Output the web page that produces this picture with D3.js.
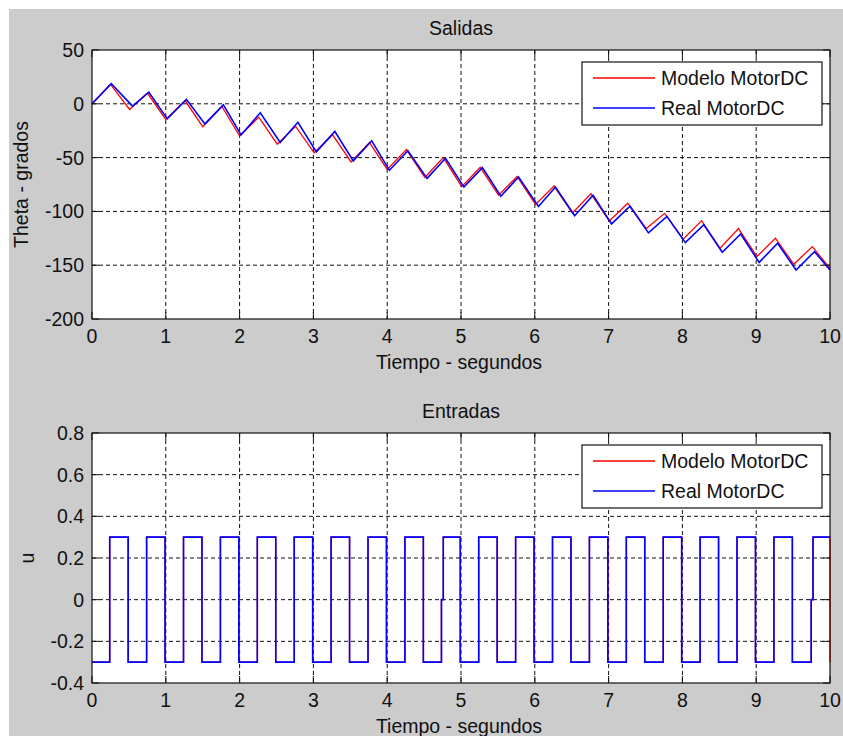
<html>
<head>
<meta charset="utf-8">
<style>
  body { margin: 0; background: white; }
  text { font-family: "Liberation Sans", Arial, sans-serif; fill: #111; }
</style>
</head>
<body>
<svg id="fig" width="843" height="736"></svg>
<script src="https://cdn.jsdelivr.net/npm/d3@7"></script>
<script>
// ---- data ----
const timeTicks = [0, 1, 2, 3, 4, 5, 6, 7, 8, 9, 10]
const thetaTicks = [50, 0, -50, -100, -150, -200]
const uTicks = [0.8, 0.6, 0.4, 0.2, 0, -0.2, -0.4]
const uTickLabels = ["0.8", "0.6", "0.4", "0.2", "0", "-0.2", "-0.4"]
const seriesNames = ["Modelo MotorDC", "Real MotorDC"]

// Salidas: peaks / troughs of theta (grados)
const tModelo = [0, 0.25, 0.51, 0.75, 1.0, 1.26, 1.5, 1.76, 2.0, 2.26, 2.51, 2.76, 3.01, 3.26, 3.51, 3.76, 4.0, 4.26, 4.51, 4.76,
  5.01, 5.26, 5.51, 5.76, 6.01, 6.26, 6.51, 6.76, 7.01, 7.26, 7.51, 7.76, 8.01, 8.26, 8.51, 8.76, 9.01, 9.26, 9.51, 9.76, 10]
const thetaModelo = [0, 18, -5.3, 10, -14.5, 3, -21.2, -2.5, -30, -12.5, -37.5, -21, -45.5, -28.8, -54, -36, -61, -42.5, -68.5, -50,
  -77, -59, -85, -67.5, -93.6, -76.5, -101.5, -83.7, -109, -92.4, -116, -101.8, -125.8, -108.6, -134.3, -116, -142, -124.9, -149.2, -132.7, -153]

const tReal = [0, 0.26, 0.55, 0.77, 1.02, 1.28, 1.53, 1.78, 2.02, 2.28, 2.55, 2.79, 3.04, 3.29, 3.54, 3.79, 4.03, 4.28, 4.54, 4.79,
  5.04, 5.29, 5.54, 5.78, 6.05, 6.28, 6.54, 6.79, 7.04, 7.29, 7.54, 7.79, 8.04, 8.29, 8.54, 8.79, 9.04, 9.29, 9.54, 9.79, 10]
const thetaReal = [0, 18.7, -2.2, 10.9, -14, 4, -18.7, -1, -29, -8.4, -36, -17.2, -44.7, -25.6, -53, -34.4, -61.8, -43.7, -69.3, -50.6,
  -77.4, -59.3, -85.9, -68, -95.5, -77.4, -104, -85, -111.6, -95.2, -120, -104.6, -129, -112.4, -138, -121, -147.4, -129.6, -154.5, -137.4, -154.5]

// Entradas: switching instants and level held after each one (same grid for both inputs)
const uTime = [0, 0.24, 0.49, 0.74, 0.99, 1.24, 1.49, 1.74, 1.99, 2.24, 2.49, 2.74, 2.99, 3.24, 3.49, 3.74, 3.99, 4.24, 4.49, 4.735, 4.76,
  4.99, 5.24, 5.49, 5.74, 5.99, 6.24, 6.49, 6.74, 6.99, 7.24, 7.49, 7.74, 7.99, 8.24, 8.49, 8.74, 8.99, 9.24, 9.49, 9.745, 9.77, 10]
const uModelo = [-0.3, 0.3, -0.3, 0.3, -0.3, 0.3, -0.3, 0.3, -0.3, 0.3, -0.3, 0.3, -0.3, 0.3, -0.3, 0.3, -0.3, 0.3, -0.3, 0, 0.3,
  -0.3, 0.3, -0.3, 0.3, -0.3, 0.3, -0.3, 0.3, -0.3, 0.3, -0.3, 0.3, -0.3, 0.3, -0.3, 0.3, -0.3, 0.3, -0.3, 0, 0.3, -0.3]
const uReal = [-0.3, 0.3, -0.3, 0.3, -0.3, 0.3, -0.3, 0.3, -0.3, 0.3, -0.3, 0.3, -0.3, 0.3, -0.3, 0.3, -0.3, 0.3, -0.3, 0, 0.3,
  -0.3, 0.3, -0.3, 0.3, -0.3, 0.3, -0.3, 0.3, -0.3, 0.3, -0.3, 0.3, -0.3, 0.3, -0.3, 0.3, -0.3, 0.3, -0.3, 0, 0.3, 0.3]

const colors = ["#ff0000", "#0000ff"]

let svg = d3.select("#fig")
svg.append("rect").attr("x", 9).attr("y", 9).attr("width", 834).attr("height", 727).attr("fill", "#cccccc")

function drawAxes(opt) {
  let g = svg.append("g")
  let x = d3.scaleLinear().domain([0, 10]).range([92, 830])
  let y = d3.scaleLinear().domain(opt.yDomain).range([opt.bottom, opt.top])

  g.append("rect").attr("x", 92).attr("y", opt.top)
    .attr("width", 830 - 92).attr("height", opt.bottom - opt.top).attr("fill", "white")

  // dashed grid
  g.selectAll(".gx").data(timeTicks.slice(1, -1)).enter().append("line")
    .attr("x1", d => x(d)).attr("x2", d => x(d)).attr("y1", opt.top).attr("y2", opt.bottom)
    .attr("stroke", "#111").attr("stroke-dasharray", "4,3")
  g.selectAll(".gy").data(opt.yTicks.slice(1, -1)).enter().append("line")
    .attr("x1", 92).attr("x2", 830).attr("y1", d => y(d)).attr("y2", d => y(d))
    .attr("stroke", "#111").attr("stroke-dasharray", "4,3")

  // series (second one drawn on top, a touch wider so the first doesn't bleed at edges)
  opt.series.forEach((s, i) => {
    let line = d3.line().x(d => x(d[0])).y(d => y(d[1])).curve(opt.curve)
    g.append("path").datum(d3.zip(s.t, s.v)).attr("d", line)
      .attr("fill", "none").attr("stroke", colors[i]).attr("stroke-width", i == 0 ? 1.3 : 1.6)
  })

  // box + inward ticks
  g.append("rect").attr("x", 92).attr("y", opt.top)
    .attr("width", 830 - 92).attr("height", opt.bottom - opt.top)
    .attr("fill", "none").attr("stroke", "#111").attr("stroke-width", 1.2)
  let tl = 7
  timeTicks.forEach(t => {
    g.append("line").attr("x1", x(t)).attr("x2", x(t)).attr("y1", opt.bottom).attr("y2", opt.bottom - tl).attr("stroke", "#111")
    g.append("line").attr("x1", x(t)).attr("x2", x(t)).attr("y1", opt.top).attr("y2", opt.top + tl).attr("stroke", "#111")
  })
  opt.yTicks.forEach(v => {
    g.append("line").attr("x1", 92).attr("x2", 92 + tl).attr("y1", y(v)).attr("y2", y(v)).attr("stroke", "#111")
    g.append("line").attr("x1", 830).attr("x2", 830 - tl).attr("y1", y(v)).attr("y2", y(v)).attr("stroke", "#111")
  })

  // tick labels
  g.selectAll(".tx").data(timeTicks).enter().append("text")
    .attr("x", d => x(d)).attr("y", opt.bottom + 24).attr("text-anchor", "middle")
    .attr("font-size", 19.5).text(d => d)
  g.selectAll(".ty").data(opt.yTicks).enter().append("text")
    .attr("x", 84).attr("y", d => y(d) + 7).attr("text-anchor", "end")
    .attr("font-size", 19.5).text((d, i) => opt.labels[i])

  // titles
  g.append("text").attr("x", 461).attr("y", opt.top - 15).attr("text-anchor", "middle")
    .attr("font-size", 19.5).text(opt.title)
  g.append("text").attr("x", 459).attr("y", opt.bottom + 50).attr("text-anchor", "middle")
    .attr("font-size", 19.5).text("Tiempo - segundos")
  g.append("text").attr("transform", `translate(${opt.yLabelX},${(opt.top + opt.bottom) / 2}) rotate(-90)`)
    .attr("text-anchor", "middle").attr("font-size", 19.5).text(opt.yLabel)

  // legend
  let lg = g.append("g").attr("transform", `translate(582,${opt.top + 12})`)
  lg.append("rect").attr("width", 240).attr("height", 63).attr("fill", "white")
    .attr("stroke", "#111").attr("stroke-width", 1.2)
  seriesNames.forEach((n, i) => {
    let yy = 16 + i * 30
    lg.append("line").attr("x1", 11).attr("x2", 73).attr("y1", yy).attr("y2", yy)
      .attr("stroke", colors[i]).attr("stroke-width", 1.4)
    lg.append("text").attr("x", 79).attr("y", yy + 7).attr("font-size", 19.5).text(n)
  })
}

drawAxes({
  top: 50, bottom: 319, yDomain: [-200, 50], yTicks: thetaTicks, labels: thetaTicks.map(String),
  title: "Salidas", yLabel: "Theta - grados", yLabelX: 28, curve: d3.curveLinear,
  series: [{ t: tModelo, v: thetaModelo }, { t: tReal, v: thetaReal }]
})

drawAxes({
  top: 433, bottom: 683, yDomain: [-0.4, 0.8], yTicks: uTicks, labels: uTickLabels,
  title: "Entradas", yLabel: "u", yLabelX: 34, curve: d3.curveStepAfter,
  series: [{ t: uTime, v: uModelo }, { t: uTime, v: uReal }]
})
</script>
</body>
</html>
